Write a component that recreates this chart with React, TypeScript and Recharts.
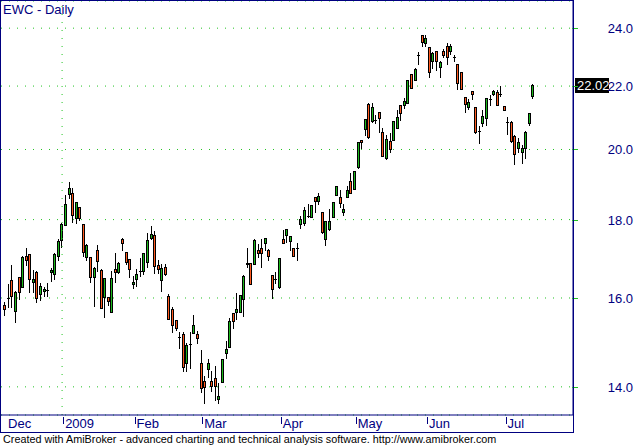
import React from 'react';
import { ComposedChart, Bar, XAxis, YAxis, CartesianGrid, ReferenceLine } from 'recharts';

const openP = [
  15.83, 16.00, 16.44, 15.69, 16.51, 16.26, 17.04, 17.09, 16.39, 16.64, 16.10, 16.17, 16.19, 16.64, 16.59, 17.04,
  17.46, 17.85, 18.71, 18.74, 18.04, 18.35, 17.88, 17.02, 17.02, 16.51, 17.20, 16.69, 16.02, 16.02, 15.66, 16.71, 16.64, 17.48, 17.14, 16.96,
  16.34, 16.46, 16.66, 16.66, 16.89, 17.51, 17.59, 16.81, 16.44, 16.76, 16.05, 15.74, 15.48, 15.09, 15.15, 14.51, 14.93, 15.18, 15.15,
  14.51, 14.12, 14.38, 14.12, 14.18, 13.74, 14.10, 14.73, 14.86, 15.64, 15.66, 15.66, 15.97, 16.86, 16.86, 16.84, 17.20, 17.25, 17.38, 17.20, 16.56, 16.46,
  16.26, 17.48, 17.59, 17.43, 17.25, 17.25, 17.88, 17.91, 18.10, 18.07, 18.62, 18.51, 18.21, 17.48, 17.75, 18.07, 18.68, 18.62, 18.21, 18.62, 19.08,
  18.85, 19.48, 20.29, 20.63, 21.42, 20.88, 20.91, 21.16, 20.53, 19.75, 20.26, 20.29, 20.66, 21.39, 21.39, 21.45, 22.41, 22.21, 23.06, 23.76,
  23.47, 23.33, 22.85, 23.19, 22.64, 23.19, 23.37, 23.19, 22.99, 22.75, 22.47, 21.64, 21.32, 21.84, 21.32, 20.57, 20.81, 20.97, 21.58, 21.74, 21.81, 21.74,
  21.35, 20.85, 20.85, 20.41, 20.04, 19.92, 20.04, 20.81, 21.68,
];
const highP = [
  15.90, 16.34, 16.81, 16.16, 16.52, 17.03, 17.25, 17.10, 16.69, 16.66, 16.36, 16.27, 16.36, 16.74, 17.12, 17.48,
  17.91, 18.68, 19.05, 18.88, 18.48, 18.35, 17.88, 17.35, 17.02, 16.76, 17.33, 16.70, 16.49, 16.02, 16.66, 17.12, 16.88, 17.51, 17.15, 16.97,
  16.54, 16.71, 16.99, 17.12, 17.64, 17.83, 17.69, 16.94, 16.84, 16.84, 16.10, 15.78, 15.48, 15.20, 15.20, 14.95, 15.20, 15.59, 15.22,
  14.80, 14.23, 14.60, 14.34, 14.44, 14.08, 14.60, 14.99, 15.53, 15.64, 16.12, 16.07, 16.56, 17.25, 16.87, 17.47, 17.35, 17.48, 17.51, 17.22, 16.56, 16.64,
  16.99, 17.72, 17.75, 17.56, 17.25, 17.38, 18.10, 18.35, 18.43, 18.40, 18.62, 18.74, 18.21, 17.96, 18.29, 18.48, 18.94, 18.82, 18.43, 18.93, 19.31,
  19.37, 20.23, 20.29, 20.94, 21.45, 21.45, 21.07, 21.16, 20.66, 20.44, 20.50, 20.88, 21.23, 21.39, 21.61, 22.21, 22.41, 22.61, 23.16, 23.76,
  23.76, 23.33, 23.16, 23.19, 22.85, 23.26, 23.47, 23.44, 23.06, 22.75, 22.47, 21.64, 21.58, 21.84, 21.32, 20.72, 21.23, 21.61, 21.71, 21.87, 21.87, 22.00,
  21.36, 21.00, 20.86, 20.44, 20.35, 20.13, 20.57, 21.13, 22.07,
];
const lowP = [
  15.60, 15.78, 15.78, 15.43, 15.97, 16.26, 16.81, 16.14, 16.14, 15.90, 15.95, 16.05, 16.05, 16.41, 16.46, 16.94,
  17.27, 17.85, 18.60, 17.94, 17.91, 17.99, 17.04, 16.94, 16.39, 15.81, 16.66, 15.75, 15.55, 15.83, 15.66, 16.39, 16.62, 17.20, 16.85, 16.51,
  16.24, 16.29, 16.54, 16.59, 16.76, 17.48, 16.61, 16.61, 16.17, 16.56, 15.50, 15.20, 15.25, 14.84, 14.34, 14.34, 14.40, 15.18, 14.95,
  13.89, 13.66, 14.21, 13.91, 13.72, 13.66, 14.10, 14.62, 14.86, 15.29, 15.50, 15.66, 15.57, 16.76, 16.33, 16.83, 17.02, 16.76, 17.20, 16.94, 16.00, 16.36,
  16.24, 17.38, 17.41, 17.20, 17.04, 16.94, 17.78, 17.85, 18.07, 18.07, 18.21, 18.43, 17.64, 17.33, 17.72, 18.07, 18.67, 18.35, 18.13, 18.62, 18.74,
  18.84, 19.45, 20.04, 20.44, 20.35, 20.84, 20.81, 20.53, 19.81, 19.72, 19.92, 20.29, 20.66, 20.91, 21.29, 21.45, 21.94, 22.21, 22.75, 23.37,
  23.37, 22.31, 22.61, 22.54, 22.31, 22.98, 22.75, 23.09, 22.85, 21.91, 21.91, 21.16, 21.26, 21.58, 20.50, 20.20, 20.72, 20.75, 21.39, 21.71, 21.39, 21.68,
  21.22, 20.47, 20.23, 19.57, 19.92, 19.60, 19.75, 20.75, 21.62,
];
const closeP = [
  15.74, 15.99, 16.05, 16.14, 16.14, 17.02, 16.94, 16.46, 16.46, 16.00, 16.29, 16.22, 16.20, 16.69, 17.09, 17.43,
  17.88, 18.43, 18.88, 18.13, 18.48, 18.04, 17.14, 17.33, 16.51, 16.74, 16.91, 15.76, 16.49, 15.93, 16.49, 16.64, 16.86, 17.38, 16.89, 16.71,
  16.39, 16.59, 16.66, 17.12, 17.46, 17.61, 16.79, 16.71, 16.74, 16.59, 15.50, 15.36, 15.29, 15.08, 14.42, 14.91, 14.92, 15.36, 15.06,
  13.97, 13.99, 14.51, 14.01, 14.01, 13.81, 14.60, 14.82, 15.46, 15.46, 15.74, 16.07, 16.54, 16.85, 16.34, 17.46, 17.12, 17.12, 17.51, 17.04, 16.22, 16.47,
  16.99, 17.38, 17.75, 17.56, 17.04, 17.24, 18.02, 18.26, 18.10, 18.40, 18.51, 18.65, 17.67, 17.96, 17.96, 18.48, 18.93, 18.46, 18.29, 18.82, 18.74,
  19.36, 20.23, 20.23, 20.94, 20.38, 21.32, 20.90, 20.97, 19.81, 20.32, 20.01, 20.88, 21.00, 21.13, 21.52, 22.21, 21.94, 22.58, 23.05, 23.51,
  23.65, 22.47, 23.12, 22.85, 22.81, 23.05, 22.98, 23.37, 22.98, 22.11, 21.91, 21.42, 21.48, 21.74, 20.53, 20.56, 21.03, 21.61, 21.58, 21.84, 21.39, 21.74,
  21.23, 20.85, 20.26, 19.87, 20.23, 20.04, 20.53, 21.13, 22.02,
];

const monthLabels = ['Dec', '2009', 'Feb', 'Mar', 'Apr', 'May', 'Jun', 'Jul'];
const monthStartBar = [1, 17, 37, 56, 78, 99, 119, 141];
const priceTicks = [14, 16, 18, 20, 22, 24];

const NAVY = '#000080';
const GRID = '#22c322';
const UP = '#1cb81c';
const DOWN = '#ff5a1f';
const FONT = 'Arial, "Liberation Sans", sans-serif';

const data = closeP.map((c, k) => ({
  i: k + 1,
  open: openP[k],
  high: highP[k],
  low: lowP[k],
  close: c,
  range: [lowP[k], highP[k]],
}));

const lastClose = closeP[closeP.length - 1];

const Candle = (props: any) => {
  const { x, y, width, height, payload } = props;
  if (x == null || y == null || !payload) return null;
  const { open, close, high, low } = payload;
  const yTop = Math.min(y, y + height);
  const yBot = Math.max(y, y + height);
  const lh = Math.log(high);
  const ll = Math.log(low);
  const toY = (p: number) => yTop + ((yBot - yTop) * (lh - Math.log(p))) / (lh - ll);
  const c = Math.round(x + width / 2 - 0.5);
  const yo = toY(open);
  const yc = toY(close);
  const top = Math.round(Math.min(yo, yc));
  const bot = Math.round(Math.max(yo, yc));
  const up = close >= open;
  const wt = Math.round(yTop);
  const wb = Math.round(yBot);
  return (
    <g>
      <line x1={c + 0.5} x2={c + 0.5} y1={wt} y2={wb + 1} stroke="#000" strokeWidth={1} />
      {bot - top < 1 ? (
        <line x1={c - 1} x2={c + 2} y1={top + 0.5} y2={top + 0.5} stroke="#000" strokeWidth={1} />
      ) : (
        <rect x={c - 0.5} y={top + 0.5} width={2} height={bot - top} fill={up ? UP : DOWN} stroke="#000" strokeWidth={1} />
      )}
    </g>
  );
};

const YTick = (props: any) => {
  const { x, y, payload } = props;
  return (
    <g>
      <line x1={x - 1} x2={x + 5} y1={Math.round(y) + 0.5} y2={Math.round(y) + 0.5} stroke={GRID} strokeWidth={1} />
      <text x={x + 60} y={y + 5} textAnchor="end" fill={NAVY} fontSize={13} fontFamily={FONT}>
        {Number(payload.value).toFixed(1)}
      </text>
    </g>
  );
};

const XTick = (props: any) => {
  const { x, y, index } = props;
  const lx = Math.round(x) + 0.5;
  return (
    <g>
      {index > 0 && <line x1={lx} x2={lx} y1={y + 2} y2={y + 9} stroke={NAVY} strokeWidth={1} />}
      <text x={x + 2} y={y + 13} textAnchor="start" fill={NAVY} fontSize={13} fontFamily={FONT}>
        {monthLabels[index]}
      </text>
    </g>
  );
};

const LastLabel = (props: any) => {
  const vb = props.viewBox || {};
  if (vb.y == null) return null;
  const bx = vb.x + vb.width + 2;
  const cy = vb.y;
  return (
    <g>
      <rect x={bx} y={Math.round(cy) - 7} width={34} height={15} fill="#000" />
      <text x={bx + 2} y={Math.round(cy) + 5} fill="#fff" fontSize={13} fontFamily={FONT}>
        {lastClose.toFixed(2)}
      </text>
    </g>
  );
};

export default function App() {
  return (
    <div style={{ position: 'absolute', left: 0, top: 0, width: 634, height: 445, background: '#fff', overflow: 'hidden' }}>
      <ComposedChart
        width={634}
        height={445}
        data={data}
        margin={{ top: 1, right: 0, left: 1, bottom: 13 }}
        style={{ position: 'absolute', left: 0, top: 0 }}
      >
        <CartesianGrid vertical={false} stroke={GRID} strokeDasharray="1 7" />
        <XAxis
          dataKey="i"
          type="number"
          domain={[-0.121, 160.21]}
          allowDataOverflow
          ticks={monthStartBar.map((b) => b + 0.3)}
          interval={0}
          height={17}
          tickSize={0}
          tickMargin={0}
          tickLine={false}
          axisLine={{ stroke: NAVY }}
          tick={<XTick />}
        />
        <YAxis
          orientation="right"
          scale="log"
          domain={[13.42, 25.0]}
          allowDataOverflow
          ticks={priceTicks}
          interval={0}
          width={61}
          tickSize={0}
          tickMargin={0}
          tickLine={false}
          axisLine={{ stroke: NAVY }}
          tick={<YTick />}
        />
        <ReferenceLine x={monthStartBar[1]} stroke={GRID} strokeDasharray="1 7" />
        <Bar dataKey="range" barSize={5} shape={<Candle />} isAnimationActive={false} />
        <ReferenceLine y={lastClose} stroke="none" label={<LastLabel />} />
      </ComposedChart>
      <svg width={634} height={445} style={{ position: 'absolute', left: 0, top: 0, pointerEvents: 'none' }}>
        <rect x={0.5} y={0.5} width={573} height={432} fill="none" stroke={NAVY} strokeWidth={1} />
        <text x={3} y={14} fill={NAVY} fontSize={13} fontFamily={FONT}>EWC - Daily</text>
        <text x={3} y={443} fill="#000" fontSize={10.8} fontFamily={FONT}>
          Created with AmiBroker - advanced charting and technical analysis software. http://www.amibroker.com
        </text>
      </svg>
    </div>
  );
}
